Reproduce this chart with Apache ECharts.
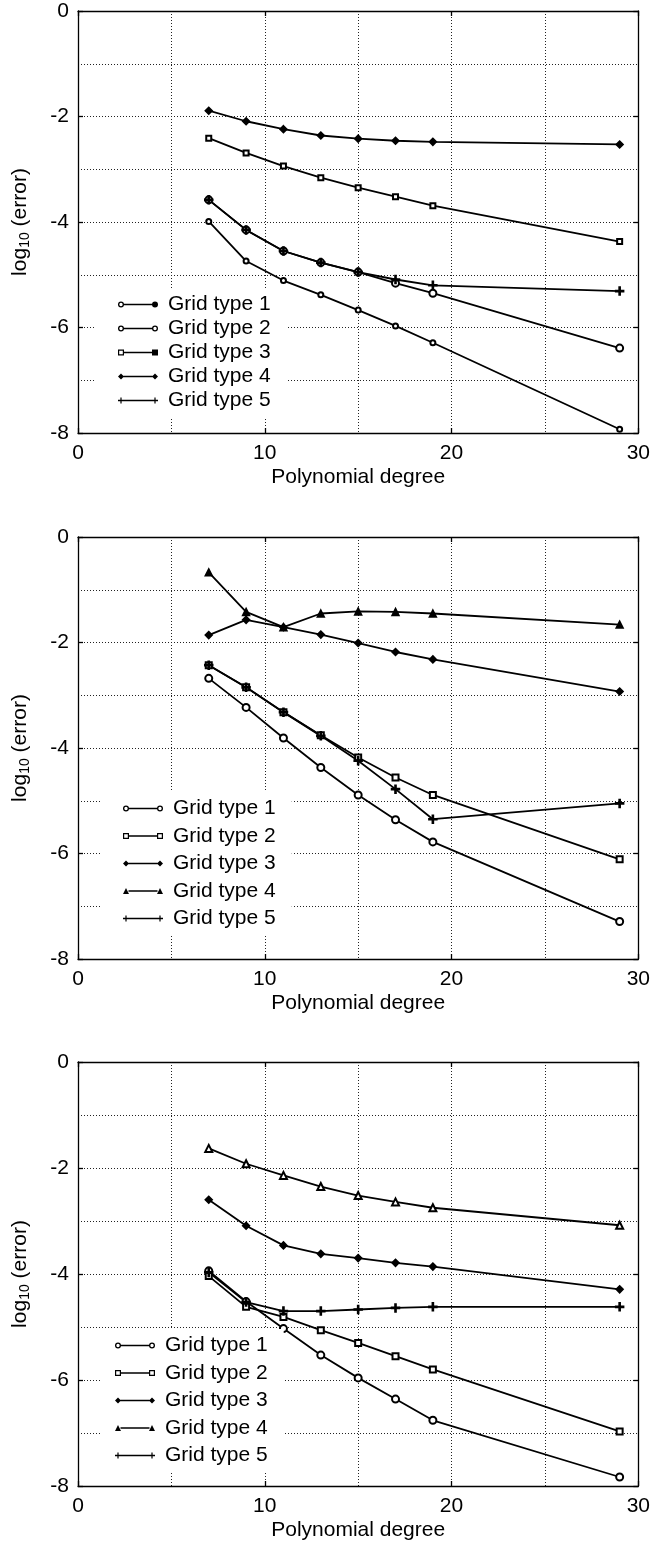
<!DOCTYPE html>
<html>
<head>
<meta charset="utf-8">
<script src="https://cdn.jsdelivr.net/npm/echarts@6/dist/echarts.min.js"></script>
<style>
  html, body { margin: 0; padding: 0; background: #fff; }
  #chart { width: 653px; height: 1546px; }
</style>
</head>
<body>
<div id="chart"></div>
<script>
// polynomial degrees on x
const degrees = [7, 9, 11, 13, 15, 17, 19, 29];
const seriesNames = ["Grid type 1", "Grid type 2", "Grid type 3", "Grid type 4", "Grid type 5"];
const xTickLabels = [0, 10, 20, 30];
const yTickLabels = [0, -2, -4, -6, -8];

// panel 1
const top1 = [-3.99, -4.74, -5.11, -5.38, -5.67, -5.97, -6.29, -7.93];
const top2 = [-3.58, -4.15, -4.55, -4.77, -4.95, -5.16, -5.35, -6.39];
const top3 = [-2.41, -2.69, -2.94, -3.16, -3.35, -3.52, -3.69, -4.37];
const top4 = [-1.89, -2.09, -2.24, -2.36, -2.42, -2.46, -2.48, -2.53];
const top5 = [-3.58, -4.15, -4.55, -4.77, -4.95, -5.09, -5.20, -5.31];

// panel 2
const mid1 = [-2.68, -3.23, -3.81, -4.37, -4.89, -5.36, -5.78, -7.29];
const mid2 = [-2.43, -2.85, -3.32, -3.76, -4.18, -4.56, -4.89, -6.11];
const mid3 = [-1.86, -1.57, -1.71, -1.85, -2.01, -2.18, -2.32, -2.93];
const mid4 = [-0.67, -1.42, -1.71, -1.45, -1.41, -1.42, -1.45, -1.66];
const mid5 = [-2.43, -2.85, -3.32, -3.77, -4.24, -4.78, -5.35, -5.05];

// panel 3
const bot1 = [-3.94, -4.52, -5.03, -5.53, -5.96, -6.36, -6.76, -7.83];
const bot2 = [-4.04, -4.62, -4.81, -5.06, -5.30, -5.55, -5.80, -6.97];
const bot3 = [-2.60, -3.09, -3.46, -3.62, -3.70, -3.79, -3.86, -4.29];
const bot4 = [-1.63, -1.92, -2.14, -2.35, -2.52, -2.64, -2.75, -3.08];
const bot5 = [-3.97, -4.53, -4.70, -4.70, -4.67, -4.64, -4.62, -4.62];

const FONT = "Liberation Sans";
const plusPath = "path://M4.3,0H5.7V4.3H10V5.7H5.7V10H4.3V5.7H0V4.3H4.3Z";

// legend icon pieces (40 x 6 box, markers at x=3 and x=37)
const dot = (cx) => `M${cx - 3},3A3,3 0 1,1 ${cx + 3},3A3,3 0 1,1 ${cx - 3},3Z`;
const ring = (cx) => dot(cx) + `M${cx - 1.7},3A1.7,1.7 0 1,0 ${cx + 1.7},3A1.7,1.7 0 1,0 ${cx - 1.7},3Z`;
const box = (cx) => `M${cx - 3},0H${cx + 3}V6H${cx - 3}Z`;
const openBox = (cx) => box(cx) + `M${cx - 1.8},1.2V4.8H${cx + 1.8}V1.2Z`;
const diam = (cx) => `M${cx},0L${cx + 3},3L${cx},6L${cx - 3},3Z`;
const tri = (cx) => `M${cx},0L${cx + 3},6L${cx - 3},6Z`;
const bar = (cx) => `M${cx - 0.6},0H${cx + 0.6}V6H${cx - 0.6}Z`;
const seg = "M5.5,2.2H34.5V3.8H5.5Z";
const fullSeg = "M0,2.2H40V3.8H0Z";
const icon = (s) => "path://" + s;
const plusIcon = icon(fullSeg + bar(3) + bar(37));

const panels = [
  {
    top: 11, height: 422,
    data: [top1, top2, top3, top4, top5],
    symbols: [["emptyCircle", 5], ["emptyCircle", 7], ["emptyRect", 5], ["diamond", 7], [plusPath, 8]],
    icons: [icon(ring(3) + seg + dot(37)), icon(ring(3) + seg + ring(37)), icon(openBox(3) + seg + box(37)),
            icon(diam(3) + seg + diam(37)), plusIcon],
    legend: { top: 288, left: 96, gap: 3, pad: [6, 16, 6, 22] }
  },
  {
    top: 537, height: 422,
    data: [mid1, mid2, mid3, mid4, mid5],
    symbols: [["emptyCircle", 7], ["emptyRect", 6], ["diamond", 7], ["triangle", 7], [plusPath, 8]],
    icons: [icon(ring(3) + seg + ring(37)), icon(openBox(3) + seg + openBox(37)), icon(diam(3) + seg + diam(37)),
            icon(tri(3) + seg + tri(37)), plusIcon],
    legend: { top: 792, left: 102, gap: 6.5, pad: [6, 16, 6, 21] }
  },
  {
    top: 1062, height: 424,
    data: [bot1, bot2, bot3, bot4, bot5],
    symbols: [["emptyCircle", 7], ["emptyRect", 6], ["diamond", 7], ["emptyTriangle", 7], [plusPath, 8]],
    icons: [icon(ring(3) + seg + ring(37)), icon(openBox(3) + seg + openBox(37)), icon(diam(3) + seg + diam(37)),
            icon(tri(3) + seg + tri(37)), plusIcon],
    legend: { top: 1329, left: 100, gap: 6.5, pad: [6, 16, 6, 15] }
  }
];

const dotted = { show: true, lineStyle: { color: "#222", width: 1, type: [1, 2] } };
const solidLine = { show: true, onZero: false, lineStyle: { color: "#000", width: 1.3 } };
const inTick = { show: true, inside: true, length: 5, lineStyle: { color: "#000", width: 1.3 } };
const labelStyle = { color: "#000", fontSize: 21, fontFamily: FONT };

const grid = [], xAxis = [], yAxis = [], series = [], legend = [];

panels.forEach((p, g) => {
  grid.push({ left: 78, width: 561, top: p.top, height: p.height });

  const xBase = {
    gridIndex: g, type: "value",
    min: xTickLabels[0], max: xTickLabels[xTickLabels.length - 1],
    interval: xTickLabels[1] - xTickLabels[0],
    axisLine: solidLine, axisTick: inTick
  };
  xAxis.push(Object.assign({}, xBase, {
    position: "bottom",
    axisLabel: Object.assign({ margin: 10 }, labelStyle),
    splitLine: dotted,
    minorTick: { show: false, splitNumber: 2 },
    minorSplitLine: dotted,
    name: "Polynomial degree", nameLocation: "middle", nameGap: 34,
    nameTextStyle: labelStyle
  }));
  xAxis.push(Object.assign({}, xBase, {
    position: "top", axisLabel: { show: false }, splitLine: { show: false }
  }));

  const yBase = {
    gridIndex: g, type: "value",
    min: yTickLabels[yTickLabels.length - 1], max: yTickLabels[0],
    interval: yTickLabels[0] - yTickLabels[1],
    axisLine: solidLine, axisTick: inTick
  };
  yAxis.push(Object.assign({}, yBase, {
    position: "left",
    axisLabel: Object.assign({ margin: 9 }, labelStyle),
    splitLine: dotted,
    minorTick: { show: false, splitNumber: 2 },
    minorSplitLine: dotted,
    name: "{a|log}{b|10}{a| (error)}", nameLocation: "middle", nameRotate: 90, nameGap: 46,
    nameTextStyle: {
      color: "#000", fontFamily: FONT,
      rich: {
        a: { fontSize: 21, lineHeight: 24, fontFamily: FONT, color: "#000" },
        b: { fontSize: 14, lineHeight: 14, verticalAlign: "bottom", fontFamily: FONT, color: "#000" }
      }
    }
  }));
  yAxis.push(Object.assign({}, yBase, {
    position: "right", axisLabel: { show: false }, splitLine: { show: false }
  }));

  p.data.forEach((vals, i) => {
    series.push({
      name: seriesNames[i], type: "line",
      xAxisIndex: g * 2, yAxisIndex: g * 2,
      data: degrees.map((d, k) => [d, vals[k]]),
      symbol: p.symbols[i][0], symbolSize: p.symbols[i][1],
      showAllSymbol: true,
      lineStyle: { color: "#000", width: 1.8 },
      itemStyle: { color: "#000", borderColor: "#000", borderWidth: 1.5 },
      emphasis: { disabled: true },
      z: 3
    });
  });

  legend.push({
    orient: "vertical",
    top: p.legend.top, left: p.legend.left,
    itemWidth: 40, itemHeight: 6, itemGap: p.legend.gap,
    padding: p.legend.pad,
    backgroundColor: "#fff",
    selectedMode: false,
    textStyle: { color: "#000", fontSize: 21, fontFamily: FONT, padding: [0, 0, 0, 5] },
    itemStyle: { color: "#000", borderWidth: 0 },
    data: seriesNames.map((n, i) => ({ name: n, icon: p.icons[i] }))
  });
});

const chart = echarts.init(document.getElementById("chart"), null, { renderer: "canvas" });
chart.setOption({
  animation: false,
  backgroundColor: "#fff",
  grid, xAxis, yAxis, series, legend
});
</script>
</body>
</html>
